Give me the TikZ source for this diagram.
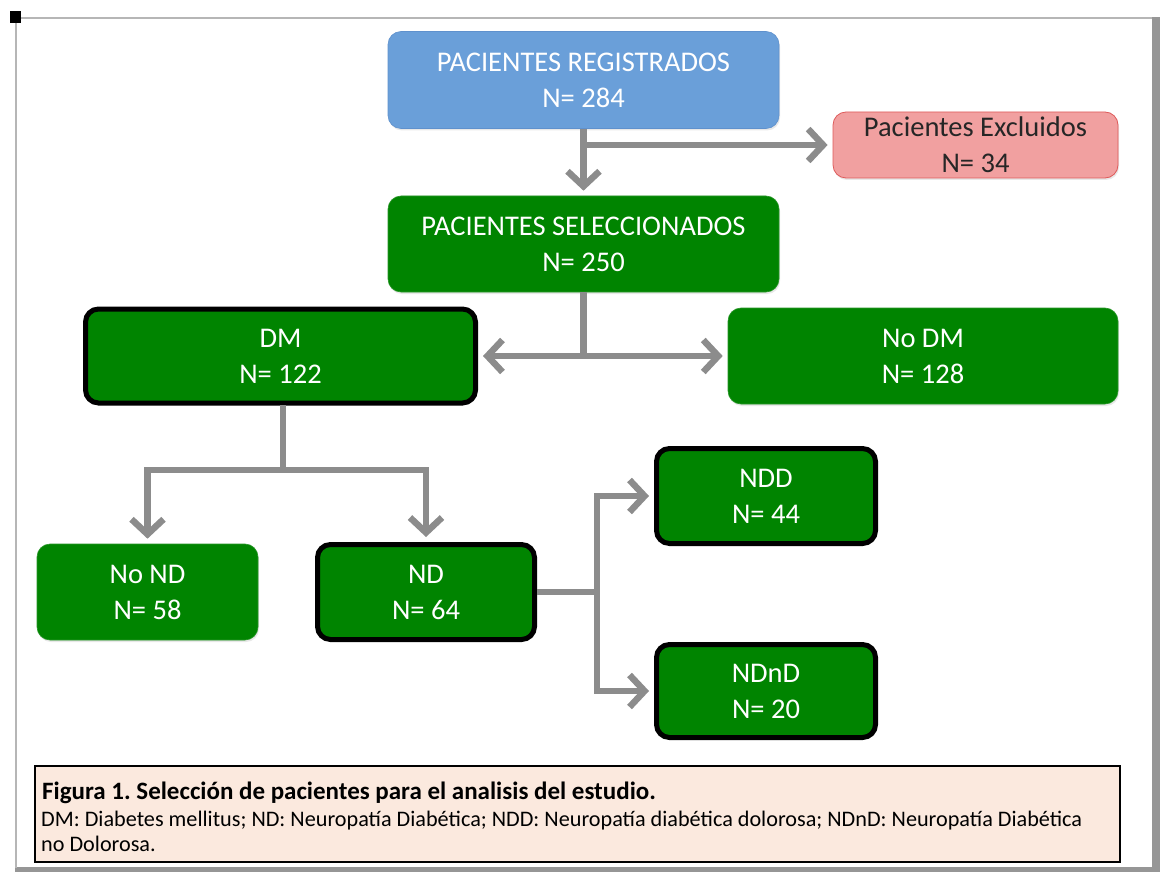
\documentclass[tikz,border=0pt]{standalone}
\usepackage{fontspec}
\setmainfont{Carlito}
\usetikzlibrary{arrows.meta,shadows}
\definecolor{gblue}{RGB}{106,159,217}
\definecolor{gbluedark}{RGB}{95,145,205}
\definecolor{gpink}{RGB}{241,160,160}
\definecolor{gred}{RGB}{222,90,90}
\definecolor{ggreen}{RGB}{0,132,0}
\definecolor{ggreenl}{RGB}{40,150,40}
\definecolor{gline}{RGB}{140,140,140}
\definecolor{gpeach}{RGB}{251,233,222}
\definecolor{gframe}{RGB}{150,150,150}
\tikzset{
  x=1pt,y=-1pt,
  boxbase/.style={rounded corners=13pt,align=center,inner sep=0pt,
    font=\fontsize{28.5}{36}\selectfont,text=white,
    drop shadow={opacity=0.18,shadow xshift=1pt,shadow yshift=-2pt}},
  bluebox/.style={boxbase,fill=gblue,draw=gbluedark,line width=0.6pt},
  pinkbox/.style={boxbase,fill=gpink,draw=gred,line width=0.8pt,text=black!85},
  greenbox/.style={boxbase,fill=ggreen,draw=ggreenl,line width=0.6pt},
  thickbox/.style={boxbase,fill=ggreen,draw=black,line width=5pt},
  wire/.style={draw=gline,line width=6.5pt},
  conn/.style={wire,-{Straight Barb[length=15pt,width=32pt,line width=6.5pt]},shorten >=5pt},
  captline/.style={anchor=base west,inner sep=0pt,font=\fontsize{22.2}{26.5}\selectfont},
}
\begin{document}
\frenchspacing
\begin{tikzpicture}
\useasboundingbox (0,0) rectangle (1160,872);
% page frame
\fill[white] (0,0) rectangle (1160,872);
\fill[gframe] (1152,17) rectangle (1160,872);
\fill[gframe] (15,867) rectangle (1160,872);
\draw[gframe!70,line width=2pt] (16,868) -- (16,18) -- (1152,18);
\fill[black] (10,11) rectangle (21,23);

% boxes
\node[bluebox,minimum width=391pt,minimum height=97pt] (reg) at (583.5,80) {PACIENTES REGISTRADOS\\N= 284};
\node[pinkbox,minimum width=285pt,minimum height=66pt] (exc) at (975.5,145) {Pacientes Excluidos\\N= 34};
\node[greenbox,minimum width=391pt,minimum height=96pt] (sel) at (583.5,244) {PACIENTES SELECCIONADOS\\N= 250};
\node[thickbox,minimum width=390pt,minimum height=94pt] (dm) at (280.5,356) {DM\\N= 122};
\node[greenbox,minimum width=390pt,minimum height=96pt] (nodm) at (923,356) {No DM\\N= 128};
\node[greenbox,minimum width=221pt,minimum height=96pt] (nond) at (147.5,592) {No ND\\N= 58};
\node[thickbox,minimum width=217pt,minimum height=95pt] (nd) at (426,592) {ND\\N= 64};
\node[thickbox,minimum width=219pt,minimum height=95pt] (ndd) at (766,496) {NDD\\N= 44};
\node[thickbox,minimum width=219pt,minimum height=93pt] (ndnd) at (766,691) {NDnD\\N= 20};

% connectors
\coordinate (b1) at (583,145);
\draw[conn] (reg.south) -- (sel.north);
\draw[conn] (b1) -- (b1 -| exc.west);

\coordinate (b2) at (sel.south |- dm.east);
\draw[wire] (sel.south) -- (b2);
\draw[conn] (b2) -- (dm.east);
\draw[conn] (b2) -- (b2 -| nodm.west);

\coordinate (b3) at (283,470);
\draw[wire] (283,405) -- (b3);
\draw[conn] (b3) -| (nond.north);
\draw[conn] (b3) -| (nd.north);

\coordinate (b4) at (597,592);
\draw[wire] (nd.east |- b4) -- (b4);
\draw[conn] (b4) |- (ndd.west);
\draw[conn] (b4) |- (ndnd.west);

% caption
\node[draw=black,line width=1.6pt,fill=gpeach,minimum width=1085pt,minimum height=96pt,inner sep=0pt] (cap) at (577.5,814) {};
\node[captline,font=\fontsize{25}{26.5}\selectfont\bfseries] (cap1) at (42,799) {Figura 1. Selección de pacientes para el analisis del estudio.};
\node[captline] (cap2) at (41,826) {DM: Diabetes mellitus; ND: Neuropatía Diabética; NDD: Neuropatía diabética dolorosa; NDnD: Neuropatía Diabética};
\node[captline] (cap3) at (41,851) {no Dolorosa.};
\end{tikzpicture}
\end{document}
